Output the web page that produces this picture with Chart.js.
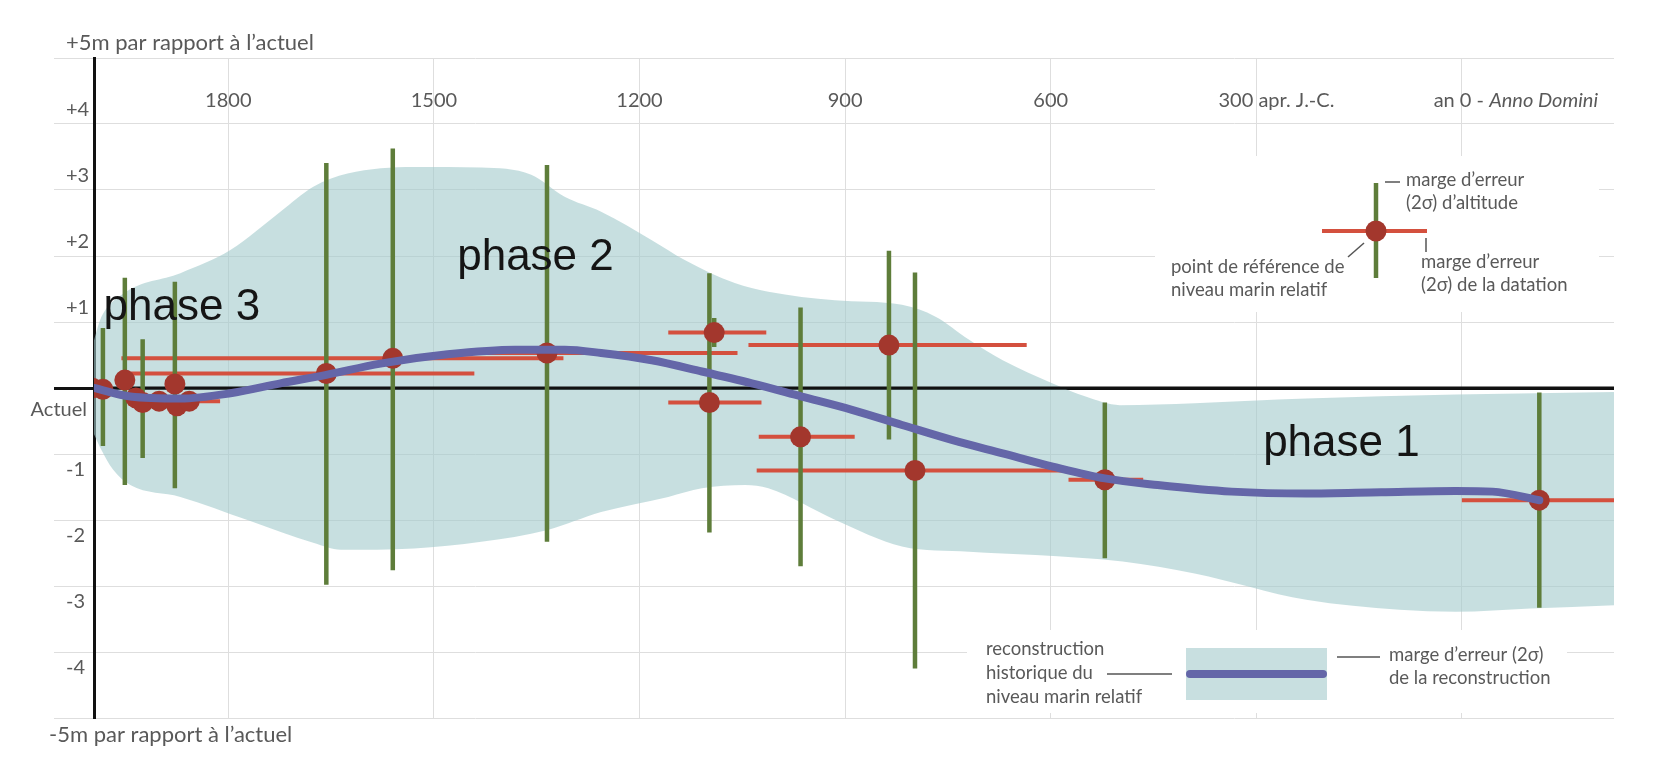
<!DOCTYPE html>
<html>
<head>
<meta charset="utf-8">
<script src="https://cdn.jsdelivr.net/npm/chart.js@4.4.1/dist/chart.umd.min.js"></script>
<style>
  html, body { margin: 0; padding: 0; background: #ffffff; }
  #wrap { width: 1663px; height: 765px; position: relative; }
</style>
</head>
<body>
<div id="wrap"><canvas id="seaLevelChart" width="1663" height="765"></canvas></div>
<script>
// Axis ticks and labels
const yearTicks = [1800, 1500, 1200, 900, 600, 300, 0];
const yearLabels = ['1800', '1500', '1200', '900', '600', '300 apr. J.-C.', 'an 0 - Anno Domini'];
const levelTicks = [-5, -4, -3, -2, -1, 0, 1, 2, 3, 4, 5];
const levelLabels = ['', '-4', '-3', '-2', '-1', 'Actuel', '+1', '+2', '+3', '+4', ''];

// Reference points (year, relative sea level in m) with 2-sigma error ranges
const ptYear    = [1999, 1983, 1951, 1935, 1925, 1901, 1878, 1875, 1857, 1657, 1560, 1335, 1098, 1091, 965, 836, 798, 521, -113];
const ptLevel   = [0.0, -0.02, 0.12, -0.15, -0.22, -0.2, 0.06, -0.27, -0.2, 0.22, 0.45, 0.53, -0.22, 0.84, -0.74, 0.65, -1.25, -1.39, -1.70];
const dateYoung = [null, null, null, null, null, null, null, null, 1901, 1943, 1956, 1480, 1158, 1158, 1026, 1041, 1029, 574, 0];
const dateOld   = [null, null, null, null, null, null, null, null, 1812, 1441, 1311, 1057, 1022, 1015, 886, 635, 566, 465, -240];
const altHigh   = [null, 0.91, 1.67, null, 0.74, null, 1.61, null, null, 3.41, 3.63, 3.38, 1.74, 1.06, 1.22, 2.08, 1.75, -0.22, -0.07];
const altLow    = [null, -0.88, -1.47, null, -1.06, null, -1.52, null, null, -2.98, -2.76, -2.33, -2.19, 0.62, -2.70, -0.78, -4.25, -2.58, -3.33];

// Reconstruction curve
const curveYear  = [1996, 1943, 1870, 1797, 1724, 1657, 1578, 1480, 1382, 1309, 1256, 1182, 1109, 1036, 963, 890, 817, 743, 670, 597, 521, 444, 336, 227, 118, 9, -45, -113];
const curveLevel = [0.0, -0.13, -0.16, -0.08, 0.07, 0.2, 0.37, 0.51, 0.58, 0.58, 0.53, 0.42, 0.25, 0.07, -0.13, -0.33, -0.56, -0.79, -0.99, -1.19, -1.37, -1.47, -1.57, -1.6, -1.58, -1.56, -1.57, -1.70];

// 2-sigma envelope of the reconstruction
const bandUpperYear = [1996, 1987, 1953, 1870, 1797, 1724, 1676, 1626, 1529, 1431, 1358, 1310, 1256, 1182, 1134, 1061, 1012, 915, 817, 768, 719, 670, 597, 549, 499, 390, 227, 9, -222];
const bandUpper     = [0.72, 1.03, 1.43, 1.74, 2.09, 2.67, 3.05, 3.25, 3.35, 3.34, 3.23, 2.9, 2.67, 2.24, 1.94, 1.59, 1.46, 1.33, 1.26, 1.08, 0.73, 0.42, 0.07, -0.13, -0.26, -0.23, -0.16, -0.1, -0.06];
const bandLowerYear = [1996, 1987, 1968, 1943, 1870, 1772, 1675, 1636, 1529, 1431, 1334, 1256, 1158, 1109, 1046, 1012, 914, 817, 719, 622, 495, 390, 227, 91, 9, -100, -222];
const bandLower     = [-0.7, -0.9, -1.24, -1.47, -1.65, -2.0, -2.35, -2.45, -2.43, -2.33, -2.15, -1.88, -1.65, -1.52, -1.47, -1.52, -2.0, -2.4, -2.48, -2.53, -2.63, -2.81, -3.21, -3.36, -3.39, -3.34, -3.29];

// Phase labels (anchored in data space: left edge / baseline)
const phaseText  = ['phase 3', 'phase 2', 'phase 1'];
const phaseYear  = [1982, 1466, 290];
const phaseLevel = [1.03, 1.79, -1.03];

const TEXT_GREY = '#595959';
const RED_BAR = '#d4503e';
const DOT_RED = '#a3372d';
const GREEN_BAR = '#5e7d3a';
const CURVE_BLUE = '#6466a8';
const GRID_GREY = '#dedede';

// Build segment lists, separated by gaps (y: null)
const dateBars = [];
const altBars = [];
ptYear.forEach((yr, i) => {
  if (dateYoung[i] !== null) {
    dateBars.push({ x: dateYoung[i], y: ptLevel[i] }, { x: dateOld[i], y: ptLevel[i] }, { x: dateOld[i], y: null });
  }
  if (altHigh[i] !== null) {
    altBars.push({ x: yr, y: altHigh[i] }, { x: yr, y: altLow[i] }, { x: yr, y: null });
  }
});

const annotationsPlugin = {
  id: 'annotations',
  beforeDatasetsDraw(chart) {
    const ctx = chart.ctx;
    ctx.save();
    ctx.fillStyle = '#ffffff';
    // legend panels hide the grid behind them
    ctx.fillRect(1155, 156, 444, 156);
    ctx.fillRect(967, 630, 600, 83);
    ctx.restore();
  },
  afterDatasetDraw(chart, args) {
    // present-day line sits on top of the envelope
    if (args.index !== 1) return;
    const ctx = chart.ctx;
    const area = chart.chartArea;
    const y0 = chart.scales.y.getPixelForValue(0);
    ctx.save();
    ctx.strokeStyle = '#111111';
    ctx.lineWidth = 3;
    ctx.beginPath(); ctx.moveTo(area.left, y0); ctx.lineTo(area.right, y0); ctx.stroke();
    ctx.restore();
  },
  afterDatasetsDraw(chart) {
    const ctx = chart.ctx;
    const xs = chart.scales.x;
    const ys = chart.scales.y;
    ctx.save();
    ctx.fillStyle = TEXT_GREY;
    ctx.textBaseline = 'middle';

    // y tick labels: positive above the line, negative below
    ctx.font = '20px Lato';
    levelTicks.forEach((v, i) => {
      const label = levelLabels[i];
      if (!label) return;
      const py = ys.getPixelForValue(v);
      if (v === 0) {
        ctx.textAlign = 'right';
        ctx.fillText(label, 87, py + 22);
      } else {
        ctx.textAlign = 'left';
        ctx.fillText(label, 66, v > 0 ? py - 14 : py + 16);
      }
    });
    ctx.textAlign = 'left';
    ctx.font = '22px Lato';
    ctx.fillText('+5m par rapport à l\u2019actuel', 66, 43);
    ctx.fillText('-5m par rapport à l\u2019actuel', 49, 735);

    // year labels inside the plot
    const labelY = 101;
    yearTicks.forEach((yr, i) => {
      const px = xs.getPixelForValue(yr);
      const label = yearLabels[i];
      ctx.font = '20px Lato';
      if (label.indexOf('apr.') > 0) {
        ctx.textAlign = 'left';
        const w = ctx.measureText('300').width;
        ctx.fillText(label, px - w - 3, labelY);
      } else if (label.indexOf('Anno Domini') > 0) {
        const plain = 'an 0 - ';
        ctx.textAlign = 'left';
        const start = px - ctx.measureText('an ').width - 2;
        ctx.fillText(plain, start, labelY);
        const w = ctx.measureText(plain).width;
        ctx.font = 'italic 20px Lato';
        ctx.fillText('Anno Domini', start + w, labelY);
      } else {
        ctx.textAlign = 'center';
        ctx.fillText(label, px, labelY);
      }
    });

    // phase labels
    ctx.fillStyle = '#151515';
    ctx.font = '44px "Liberation Sans", Arial, sans-serif';
    ctx.textAlign = 'left';
    ctx.textBaseline = 'alphabetic';
    phaseText.forEach((t, i) => {
      ctx.fillText(t, xs.getPixelForValue(phaseYear[i]), ys.getPixelForValue(phaseLevel[i]));
    });

    // --- legend: reference point symbol ---
    ctx.lineCap = 'butt';
    ctx.strokeStyle = RED_BAR;
    ctx.lineWidth = 4;
    ctx.beginPath(); ctx.moveTo(1322, 231); ctx.lineTo(1427, 231); ctx.stroke();
    ctx.strokeStyle = GREEN_BAR;
    ctx.lineWidth = 4.5;
    ctx.beginPath(); ctx.moveTo(1376, 183); ctx.lineTo(1376, 278); ctx.stroke();
    ctx.fillStyle = DOT_RED;
    ctx.beginPath(); ctx.arc(1376, 231, 10.5, 0, Math.PI * 2); ctx.fill();

    ctx.strokeStyle = '#555555';
    ctx.lineWidth = 1.5;
    ctx.beginPath(); ctx.moveTo(1385, 182); ctx.lineTo(1400, 182); ctx.stroke();
    ctx.beginPath(); ctx.moveTo(1426, 238); ctx.lineTo(1426, 252); ctx.stroke();
    ctx.beginPath(); ctx.moveTo(1364, 243); ctx.lineTo(1348, 257); ctx.stroke();

    ctx.fillStyle = TEXT_GREY;
    ctx.font = '18.5px Lato';
    ctx.textBaseline = 'middle';
    ctx.fillText('marge d\u2019erreur', 1406, 180);
    ctx.fillText('(2\u03c3) d\u2019altitude', 1406, 203);
    ctx.fillText('marge d\u2019erreur', 1421, 262);
    ctx.fillText('(2\u03c3) de la datation', 1421, 285);
    ctx.fillText('point de référence de', 1171, 267);
    ctx.fillText('niveau marin relatif', 1171, 290);

    // --- legend: reconstruction symbol ---
    ctx.fillStyle = '#c8dfe0';
    ctx.fillRect(1186, 648, 141, 52);
    ctx.strokeStyle = CURVE_BLUE;
    ctx.lineWidth = 8;
    ctx.lineCap = 'round';
    ctx.beginPath(); ctx.moveTo(1190, 674); ctx.lineTo(1323, 674); ctx.stroke();
    ctx.lineCap = 'butt';
    ctx.strokeStyle = '#555555';
    ctx.lineWidth = 1.5;
    ctx.beginPath(); ctx.moveTo(1107, 674); ctx.lineTo(1172, 674); ctx.stroke();
    ctx.beginPath(); ctx.moveTo(1337, 657); ctx.lineTo(1380, 657); ctx.stroke();

    ctx.fillStyle = TEXT_GREY;
    ctx.fillText('reconstruction', 986, 649);
    ctx.fillText('historique du', 986, 673);
    ctx.fillText('niveau marin relatif', 986, 697);
    ctx.fillText('marge d\u2019erreur (2\u03c3)', 1389, 655);
    ctx.fillText('de la reconstruction', 1389, 678);
    ctx.restore();
  }
};

function renderSeaLevelChart() {
  const canvas = document.getElementById('seaLevelChart');
  new Chart(canvas, {
    type: 'line',
    data: {
      datasets: [
        {
          // lower edge of the envelope
          data: bandLowerYear.map((yr, i) => ({ x: yr, y: bandLower[i] })),
          borderWidth: 0,
          pointRadius: 0,
          cubicInterpolationMode: 'monotone',
          fill: false,
          order: 6
        },
        {
          // upper edge, filled down to the lower edge
          data: bandUpperYear.map((yr, i) => ({ x: yr, y: bandUpper[i] })),
          borderWidth: 0,
          pointRadius: 0,
          cubicInterpolationMode: 'monotone',
          fill: '-1',
          backgroundColor: 'rgba(162, 202, 203, 0.6)',
          order: 5
        },
        {
          data: dateBars,
          borderColor: RED_BAR,
          borderWidth: 4,
          pointRadius: 0,
          spanGaps: false,
          fill: false,
          order: 4
        },
        {
          data: altBars,
          borderColor: GREEN_BAR,
          borderWidth: 4.5,
          pointRadius: 0,
          spanGaps: false,
          fill: false,
          order: 3
        },
        {
          data: ptYear.map((yr, i) => ({ x: yr, y: ptLevel[i] })),
          showLine: false,
          pointRadius: 10.5,
          pointBackgroundColor: DOT_RED,
          pointBorderWidth: 0,
          order: 2
        },
        {
          data: curveYear.map((yr, i) => ({ x: yr, y: curveLevel[i] })),
          borderColor: CURVE_BLUE,
          borderWidth: 8,
          borderCapStyle: 'round',
          pointRadius: 0,
          cubicInterpolationMode: 'monotone',
          fill: false,
          order: 1
        }
      ]
    },
    plugins: [annotationsPlugin],
    options: {
      responsive: false,
      animation: false,
      layout: { padding: { left: 54, right: 49, top: 58, bottom: 47 } },
      plugins: {
        legend: { display: false },
        tooltip: { enabled: false }
      },
      scales: {
        x: {
          type: 'linear',
          reverse: true,
          min: -222,
          max: 1996,
          afterBuildTicks: (scale) => { scale.ticks = yearTicks.map(v => ({ value: v })); },
          afterFit: (scale) => { scale.height = 0; },
          ticks: { display: false },
          grid: { color: GRID_GREY, lineWidth: 1, drawTicks: false },
          border: { display: false }
        },
        y: {
          type: 'linear',
          min: -5,
          max: 5,
          afterBuildTicks: (scale) => { scale.ticks = levelTicks.map(v => ({ value: v })); },
          afterFit: (scale) => { scale.width = 40; },
          ticks: { display: false },
          grid: {
            color: (c) => (c.tick && c.tick.value === 0 ? '#111111' : GRID_GREY),
            lineWidth: (c) => (c.tick && c.tick.value === 0 ? 3 : 1),
            drawTicks: true,
            tickLength: 40
          },
          border: { display: true, color: '#111111', width: 3 }
        }
      }
    }
  });
}

Promise.all([
  document.fonts.load('20px Lato'),
  document.fonts.load('italic 20px Lato'),
  document.fonts.load('44px "Liberation Sans"')
]).then(renderSeaLevelChart, renderSeaLevelChart);
</script>
</body>
</html>
